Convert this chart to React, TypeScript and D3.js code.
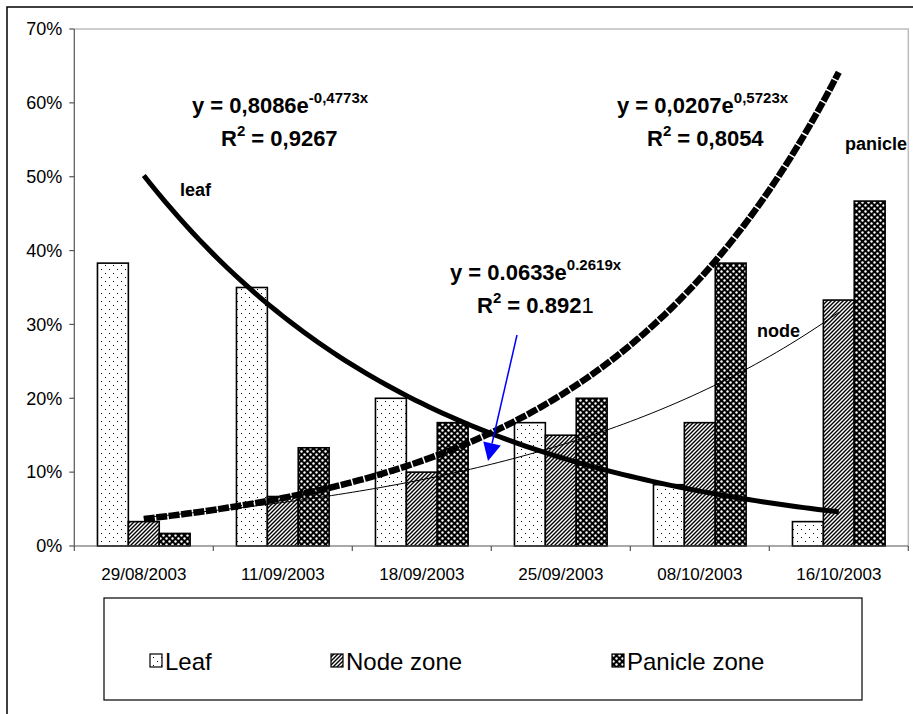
import React from 'react';
import * as d3 from 'd3';

const categories = ['29/08/2003', '11/09/2003', '18/09/2003', '25/09/2003', '08/10/2003', '16/10/2003'];
const leafValues = [0.383, 0.35, 0.2, 0.167, 0.083, 0.033];
const nodeValues = [0.033, 0.067, 0.1, 0.15, 0.167, 0.333];
const panicleValues = [0.017, 0.133, 0.167, 0.2, 0.383, 0.467];
const seriesNames = ['Leaf', 'Node zone', 'Panicle zone'];
const yTicks = [0, 0.1, 0.2, 0.3, 0.4, 0.5, 0.6, 0.7];
const leafTrend = [0.8086, -0.4773];
const panicleTrend = [0.0207, 0.5723];

const W = 913, H = 714;
const plot = { left: 74.3, right: 908.3, top: 29, bottom: 546 };
const FONT = '"Liberation Sans", Arial, Helvetica, sans-serif';

// least-squares exponential fit (as a spreadsheet trendline does)
function expFit(values: number[]): number[] {
  const ts = values.map((_, i) => i + 1);
  const ls = values.map(v => Math.log(v));
  const mt = d3.mean(ts)!, ml = d3.mean(ls)!;
  const sxy = d3.sum(ts, (t, i) => (t - mt) * (ls[i] - ml));
  const sxx = d3.sum(ts, t => (t - mt) ** 2);
  const b = sxy / sxx;
  return [Math.exp(ml - b * mt), b];
}

export default function App() {
  const x = d3.scaleBand<string>().domain(categories).range([plot.left, plot.right]).padding(0);
  const bw = x.bandwidth();
  const gap = bw * 1.5 / 4.5;
  const inner = d3.scaleBand<string>().domain(seriesNames).range([gap / 2, bw - gap / 2]).padding(0);
  const y = d3.scaleLinear().domain([0, 0.7]).range([plot.bottom, plot.top]);
  const xc = d3.scaleLinear().domain([0.5, categories.length + 0.5]).range([plot.left, plot.right]);
  const fmt = d3.format('.0%');
  const nodeTrend = expFit(nodeValues);

  const series = [
    { name: 'Leaf', values: leafValues, fill: 'url(#pLeaf)' },
    { name: 'Node zone', values: nodeValues, fill: 'url(#pNode)' },
    { name: 'Panicle zone', values: panicleValues, fill: 'url(#pPan)' },
  ];

  const trendPts = (p: number[]) => d3.range(1, categories.length + 0.001, 0.05).map(t => [xc(t), y(p[0] * Math.exp(p[1] * t))] as [number, number]);
  const line = d3.line().curve(d3.curveLinear);

  const arrowFrom: [number, number] = [517, 335];
  const arrowTo: [number, number] = [488, 461];
  const ang = Math.atan2(arrowTo[1] - arrowFrom[1], arrowTo[0] - arrowFrom[0]);
  const hl = 18, hw = 9;
  const bx = arrowTo[0] - hl * Math.cos(ang), by = arrowTo[1] - hl * Math.sin(ang);
  const head = `M${arrowTo[0]},${arrowTo[1]} L${bx + hw * Math.sin(ang)},${by - hw * Math.cos(ang)} L${bx - hw * Math.sin(ang)},${by + hw * Math.cos(ang)} Z`;

  const legendBox = { x: 104, y: 598, w: 758, h: 102 };
  const legendItems = [
    { name: 'Leaf', fill: 'url(#pLeaf)', x: 150 },
    { name: 'Node zone', fill: 'url(#pNode)', x: 331 },
    { name: 'Panicle zone', fill: 'url(#pPan)', x: 612 },
  ];

  return (
    <svg width={W} height={H} style={{ position: 'absolute', left: 0, top: 0, background: '#fff' }} fontFamily={FONT}>
      <defs>
        <pattern id="pLeaf" width="8" height="8" patternUnits="userSpaceOnUse">
          <rect width="8" height="8" fill="#fff" />
          <rect x="1" y="1" width="1" height="1" fill="#000" />
          <rect x="5" y="5" width="1" height="1" fill="#000" />
        </pattern>
        <pattern id="pNode" width="4" height="4" patternUnits="userSpaceOnUse">
          <rect width="4" height="4" fill="#fff" />
          <path d="M-1,1 l2,-2 M0,4 l4,-4 M3,5 l2,-2" stroke="#000" strokeWidth="1.4" />
        </pattern>
        <pattern id="pPan" width="6" height="6" patternUnits="userSpaceOnUse">
          <rect width="6" height="6" fill="#000" />
          <circle cx="1.5" cy="1.5" r="1.2" fill="#fff" />
          <circle cx="4.5" cy="4.5" r="1.2" fill="#fff" />
        </pattern>
      </defs>

      {/* outer chart border */}
      <rect x={7} y={7} width={1000} height={1000} fill="none" stroke="#000" strokeWidth={1.5} />

      {/* plot area border */}
      <path d={`M${plot.left},${plot.top} H${plot.right} V${plot.bottom}`} fill="none" stroke="#bdbdbd" strokeWidth={1.5} />

      {/* bars */}
      {series.map(s => (
        <g key={s.name}>
          {s.values.map((v, i) => (
            <rect key={i}
              x={(x(categories[i]) ?? 0) + (inner(s.name) ?? 0)}
              y={y(v)}
              width={inner.bandwidth()}
              height={y(0) - y(v)}
              fill={s.fill} stroke="#000" strokeWidth={1.6} />
          ))}
        </g>
      ))}

      {/* axes */}
      <line x1={plot.left} x2={plot.left} y1={plot.top} y2={plot.bottom} stroke="#555" strokeWidth={1.2} />
      <line x1={plot.left} x2={plot.right} y1={plot.bottom} y2={plot.bottom} stroke="#555" strokeWidth={1.2} />
      {yTicks.map(t => (
        <g key={t}>
          <line x1={plot.left - 5} x2={plot.left} y1={y(t)} y2={y(t)} stroke="#555" strokeWidth={1.2} />
          <text x={plot.left - 12} y={y(t)} dy="0.35em" textAnchor="end" fontSize={18}>{fmt(t)}</text>
        </g>
      ))}
      {categories.map((c, i) => (
        <g key={c}>
          <line x1={x(c)! + bw} x2={x(c)! + bw} y1={plot.bottom} y2={plot.bottom + 5} stroke="#555" strokeWidth={1.2} />
          {i === 0 && <line x1={x(c)!} x2={x(c)!} y1={plot.bottom} y2={plot.bottom + 5} stroke="#555" strokeWidth={1.2} />}
          <text x={x(c)! + bw / 2} y={580} textAnchor="middle" fontSize={17}>{c}</text>
        </g>
      ))}

      {/* trendlines */}
      <path d={line(trendPts(nodeTrend)) ?? ''} fill="none" stroke="#000" strokeWidth={1} />
      <path d={line(trendPts(leafTrend)) ?? ''} fill="none" stroke="#000" strokeWidth={5} />
      <path d={line(trendPts(panicleTrend)) ?? ''} fill="none" stroke="#000" strokeWidth={6.5} strokeDasharray="11 1.5" />

      {/* arrow */}
      <line x1={arrowFrom[0]} y1={arrowFrom[1]} x2={bx} y2={by} stroke="#0000ff" strokeWidth={1.5} />
      <path d={head} fill="#0000ff" />

      {/* equations */}
      <g fontWeight="bold" fontSize={22}>
        <text x={192} y={113}>y = 0,8086e<tspan dy={-10} fontSize={15}>-0,4773x</tspan></text>
        <text x={221} y={146}>R<tspan dy={-10} fontSize={15}>2</tspan><tspan dy={10}> = 0,9267</tspan></text>
        <text x={617} y={113}>y = 0,0207e<tspan dy={-10} fontSize={15}>0,5723x</tspan></text>
        <text x={647} y={146}>R<tspan dy={-10} fontSize={15}>2</tspan><tspan dy={10}> = 0,8054</tspan></text>
        <text x={450} y={280}>y = 0.0633e<tspan dy={-10} fontSize={15}>0.2619x</tspan></text>
        <text x={477} y={313}>R<tspan dy={-10} fontSize={15}>2</tspan><tspan dy={10}> = 0.892</tspan><tspan fontWeight="normal">1</tspan></text>
      </g>
      <g fontWeight="bold" fontSize={18}>
        <text x={180} y={196}>leaf</text>
        <text x={845} y={150}>panicle</text>
        <text x={757} y={337}>node</text>
      </g>

      {/* legend */}
      <rect x={legendBox.x} y={legendBox.y} width={legendBox.w} height={legendBox.h} fill="#fff" stroke="#000" strokeWidth={1.2} />
      {legendItems.map(it => (
        <g key={it.name}>
          <rect x={it.x} y={654} width={12} height={13} fill={it.fill} stroke="#000" strokeWidth={1.2} />
          <text x={it.x + 15} y={670} fontSize={24}>{it.name}</text>
        </g>
      ))}
    </svg>
  );
}
